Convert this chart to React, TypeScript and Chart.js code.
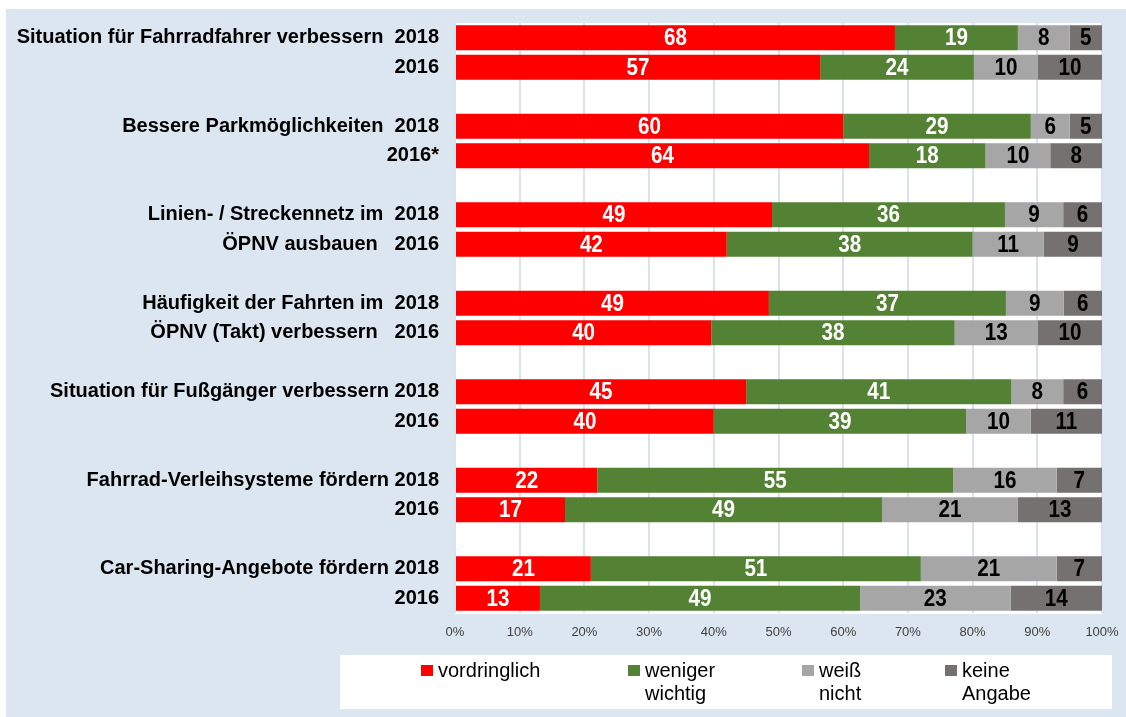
import React, { useEffect, useRef } from "react";
import { Chart, registerables } from "chart.js";

Chart.register(...registerables);

// ---- data ----
const rowLabels = [
  "Situation für Fahrradfahrer verbessern  2018",
  "2016",
  "Bessere Parkmöglichkeiten  2018",
  "2016*",
  "Linien- / Streckennetz im  2018",
  "ÖPNV ausbauen   2016",
  "Häufigkeit der Fahrten im  2018",
  "ÖPNV (Takt) verbessern   2016",
  "Situation für Fußgänger verbessern 2018",
  "2016",
  "Fahrrad-Verleihsysteme fördern 2018",
  "2016",
  "Car-Sharing-Angebote fördern 2018",
  "2016",
];

const vordringlich = [68, 57, 60, 64, 49, 42, 49, 40, 45, 40, 22, 17, 21, 13];
const wenigerWichtig = [19, 24, 29, 18, 36, 38, 37, 38, 41, 39, 55, 49, 51, 49];
const weissNicht = [8, 10, 6, 10, 9, 11, 9, 13, 8, 10, 16, 21, 21, 23];
const keineAngabe = [5, 10, 5, 8, 6, 9, 6, 10, 6, 11, 7, 13, 7, 14];

const seriesNames: string[][] = [
  ["vordringlich"],
  ["weniger", "wichtig"],
  ["weiß", "nicht"],
  ["keine", "Angabe"],
];
const seriesColors = ["#FF0000", "#548235", "#A6A6A6", "#767171"];
const labelColors = ["#FFFFFF", "#FFFFFF", "#000000", "#000000"];
const xTickValues = [0, 10, 20, 30, 40, 50, 60, 70, 80, 90, 100];

// ---- helpers ----
function withGaps<T>(arr: T[], gap: T): T[] {
  const out: T[] = [];
  arr.forEach((v, i) => {
    out.push(v);
    if (i % 2 === 1 && i < arr.length - 1) out.push(gap);
  });
  return out;
}

const allSeries = [vordringlich, wenigerWichtig, weissNicht, keineAngabe];
const totals = vordringlich.map((_, i) => allSeries.reduce((s, a) => s + a[i], 0));

const LEGEND_SQUARE_X = [421, 628, 802, 945];

const bgPlugin = {
  id: "bgPlugin",
  beforeDraw(chart: any) {
    const { ctx, chartArea } = chart;
    ctx.save();
    ctx.fillStyle = "#FFFFFF";
    ctx.fillRect(0, 0, chart.width, chart.height);
    ctx.fillStyle = "#DCE6F1";
    ctx.fillRect(6, 9, chart.width - 6, chart.height - 9);
    ctx.fillStyle = "#FFFFFF";
    ctx.fillRect(chartArea.left, chartArea.top, chartArea.right - chartArea.left, chartArea.bottom - chartArea.top + 1);
    // legend box
    ctx.fillRect(340, 655, 772, 54);
    ctx.restore();
  },
};

const dataLabelPlugin = {
  id: "dataLabelPlugin",
  afterDatasetsDraw(chart: any) {
    const { ctx } = chart;
    chart.data.datasets.forEach((ds: any, di: number) => {
      const meta = chart.getDatasetMeta(di);
      meta.data.forEach((el: any, i: number) => {
        const raw = ds.rawValues[i];
        if (raw == null) return;
        const p = el.getProps(["x", "y", "base"], true);
        const cx = (p.x + p.base) / 2;
        ctx.save();
        ctx.translate(cx, p.y + 1);
        ctx.scale(0.86, 1);
        ctx.font = 'bold 24px "Liberation Sans", Arial, sans-serif';
        ctx.fillStyle = labelColors[di];
        ctx.textAlign = "center";
        ctx.textBaseline = "middle";
        ctx.fillText(String(raw), 0, 0);
        ctx.restore();
      });
    });
  },
};

const legendPlugin = {
  id: "customLegend",
  afterDraw(chart: any) {
    const { ctx } = chart;
    ctx.save();
    chart.data.datasets.forEach((ds: any, di: number) => {
      const x = LEGEND_SQUARE_X[di];
      ctx.fillStyle = ds.backgroundColor;
      ctx.fillRect(x, 665, 12, 11);
      ctx.fillStyle = "#000000";
      ctx.font = '20px "Liberation Sans", Arial, sans-serif';
      ctx.textAlign = "left";
      ctx.textBaseline = "middle";
      (ds.legendLines as string[]).forEach((line, li) => {
        ctx.fillText(line, x + 17, 671 + li * 23);
      });
    });
    ctx.restore();
  },
};

export default function App() {
  const canvasRef = useRef<HTMLCanvasElement | null>(null);

  useEffect(() => {
    if (!canvasRef.current) return;
    const labels = withGaps(rowLabels, "");
    const datasets = allSeries.map((series, si) => ({
      label: seriesNames[si].join(" "),
      legendLines: seriesNames[si],
      data: withGaps(series.map((v, i) => (v / totals[i]) * 100) as (number | null)[], null),
      rawValues: withGaps(series as (number | null)[], null),
      backgroundColor: seriesColors[si],
      borderWidth: 0,
      barPercentage: 0.85,
      categoryPercentage: 1,
    }));

    const chart = new Chart(canvasRef.current, {
      type: "bar",
      data: { labels, datasets } as any,
      options: {
        indexAxis: "y",
        responsive: false,
        animation: false,
        layout: { padding: { top: 23, right: 24, left: 0, bottom: 0 } },
        plugins: {
          legend: { display: false },
          tooltip: { enabled: false },
        },
        scales: {
          x: {
            type: "linear",
            stacked: true,
            min: 0,
            max: 100,
            afterBuildTicks(scale: any) {
              scale.ticks = xTickValues.map((v) => ({ value: v }));
            },
            afterFit(scale: any) {
              scale.height = 104;
              scale.paddingLeft = 0;
              scale.paddingRight = 0;
            },
            ticks: {
              callback: (v: any) => v + "%",
              font: { family: '"Liberation Sans", Arial, sans-serif', size: 13 },
              color: "#404040",
              padding: 12,
              maxRotation: 0,
            },
            grid: { color: "#D9E2EE", lineWidth: 2, drawTicks: false },
            border: { display: false },
          },
          y: {
            type: "category",
            stacked: true,
            afterFit(scale: any) {
              scale.width = 455;
              scale.paddingTop = 0;
              scale.paddingBottom = 0;
            },
            ticks: {
              autoSkip: false,
              font: { family: '"Liberation Sans", Arial, sans-serif', size: 20, weight: "bold" },
              color: "#000000",
              padding: 16,
            },
            grid: { display: false, drawTicks: false },
            border: { display: false },
          },
        },
      } as any,
      plugins: [bgPlugin, dataLabelPlugin, legendPlugin],
    });
    return () => chart.destroy();
  }, []);

  return (
    <div style={{ position: "absolute", left: 0, top: 0, width: 1126, height: 717 }}>
      <canvas ref={canvasRef} width={1126} height={717} style={{ display: "block" }} />
    </div>
  );
}
